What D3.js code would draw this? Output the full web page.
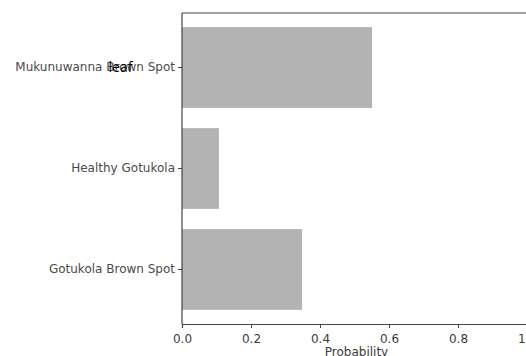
<!DOCTYPE html>
<html>
<head>
<meta charset="utf-8">
<script src="https://cdn.jsdelivr.net/npm/d3@7"></script>
<style>
  body { margin: 0; background: #fff; }
  svg text { font-family: "DejaVu Sans", sans-serif; }
</style>
</head>
<body>
<div id="chart"></div>
<script>
// data
var categories = ['Mukunuwanna Brown Spot', 'Healthy Gotukola', 'Gotukola Brown Spot'];
var probabilities = [0.551, 0.107, 0.348];
var xTicks = [0, 0.2, 0.4, 0.6, 0.8, 1.0];

var width = 526, height = 356;
var margin = { top: 13, left: 182, bottom: 32 };
var plotRight = 527;

var svg = d3.select('#chart').append('svg')
    .attr('width', width)
    .attr('height', height);

var x = d3.scaleLinear().domain([0, 1]).range([margin.left, plotRight]);
var y = d3.scaleBand()
    .domain(categories)
    .range([margin.top, height - margin.bottom])
    .paddingInner(0.2)
    .paddingOuter(0.14);

svg.selectAll('rect.bar')
    .data(categories)
    .enter()
    .append('rect')
    .attr('class', 'bar')
    .attr('x', x(0))
    .attr('y', function (d) { return y(d); })
    .attr('width', function (d, i) { return x(probabilities[i]) - x(0); })
    .attr('height', y.bandwidth())
    .attr('fill', '#b3b3b3');

// spines
svg.append('line')
    .attr('x1', x(0)).attr('x2', x(0))
    .attr('y1', margin.top).attr('y2', height - margin.bottom)
    .attr('stroke', '#444').attr('stroke-width', 1.2);
svg.append('line')
    .attr('x1', x(0)).attr('x2', width)
    .attr('y1', margin.top).attr('y2', margin.top)
    .attr('stroke', '#444').attr('stroke-width', 1.2);

var xAxis = svg.append('g')
    .attr('transform', 'translate(0,' + (height - margin.bottom) + ')')
    .call(d3.axisBottom(x).tickValues(xTicks).tickSize(4).tickPadding(6)
        .tickFormat(function (d) { return d === 1 ? '1.0' : d3.format('.1f')(d); }));
xAxis.select('.domain').attr('stroke', '#444').attr('stroke-width', 1.2);
xAxis.selectAll('.tick line').attr('stroke', '#444');
xAxis.selectAll('text').attr('fill', '#3a3a3a').style('font-size', '12px');

var yAxis = svg.append('g')
    .attr('transform', 'translate(' + x(0) + ',0)')
    .call(d3.axisLeft(y).tickSize(4).tickPadding(3));
yAxis.select('.domain').remove();
yAxis.selectAll('.tick line').attr('stroke', '#444');
yAxis.selectAll('text').attr('fill', '#4a4a4a').style('font-size', '12px');

svg.append('text')
    .attr('x', (x(0) + x(1)) / 2 + 2)
    .attr('y', height)
    .attr('text-anchor', 'middle')
    .attr('fill', '#3a3a3a')
    .style('font-size', '12px')
    .text('Probability');

// stray overlaid word
svg.append('text')
    .attr('x', 120.5)
    .attr('y', 72)
    .attr('text-anchor', 'middle')
    .attr('fill', '#000')
    .style('font-family', '"Open Sans", sans-serif')
    .style('font-size', '14px')
    .text('leaf');
</script>
</body>
</html>
